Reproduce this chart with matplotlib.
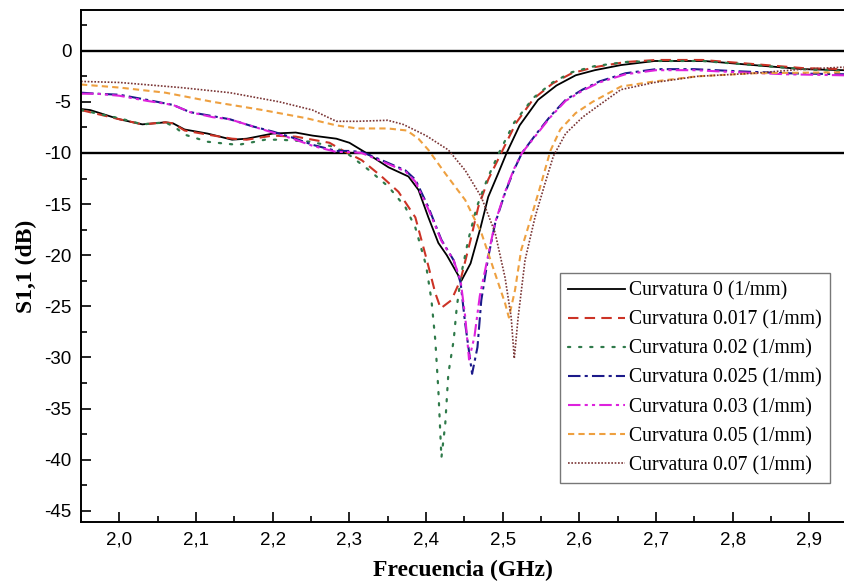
import numpy as np
import matplotlib
matplotlib.use("Agg")
import matplotlib.pyplot as plt
from matplotlib.ticker import MultipleLocator, FuncFormatter

# --- data (GHz, dB) ---
f_c0 = [1.95, 1.962, 2.00, 2.03, 2.06, 2.07, 2.085, 2.115, 2.147, 2.166, 2.20, 2.23, 2.252, 2.283,
        2.30, 2.322, 2.351, 2.377, 2.39, 2.403, 2.416, 2.427, 2.446, 2.458, 2.471, 2.481, 2.494,
        2.505, 2.522, 2.546, 2.57, 2.595, 2.62, 2.654, 2.698, 2.763, 2.827, 2.892, 2.945]
s_c0 = [-5.7, -5.8, -6.7, -7.2, -7.0, -7.1, -7.7, -8.1, -8.7, -8.6, -8.1, -8.0, -8.3, -8.6,
        -9.0, -10.0, -11.4, -12.3, -13.6, -16.3, -18.8, -20.0, -22.5, -20.8, -17.3, -14.3, -12.0,
        -10.0, -7.3, -4.8, -3.4, -2.4, -1.9, -1.4, -1.0, -1.0, -1.4, -1.8, -1.9]

f_c017 = [1.95, 2.00, 2.03, 2.06, 2.07, 2.085, 2.115, 2.147, 2.166, 2.20, 2.23, 2.252, 2.274, 2.29,
          2.316, 2.342, 2.364, 2.386, 2.40, 2.412, 2.419, 2.433, 2.445, 2.458, 2.468, 2.481, 2.498,
          2.517, 2.54, 2.565, 2.59, 2.62, 2.66, 2.70, 2.76, 2.827, 2.892, 2.945]
s_c017 = [-5.8, -6.7, -7.2, -7.0, -7.1, -7.8, -8.2, -8.6, -8.7, -8.3, -8.4, -8.7, -9.0, -9.7,
          -10.7, -12.3, -13.8, -16.3, -20.2, -23.7, -25.2, -24.4, -22.4, -18.5, -15.3, -12.6, -10.0,
          -7.1, -4.7, -3.2, -2.2, -1.6, -1.1, -0.9, -0.9, -1.3, -1.7, -1.8]

f_c02 = [1.95, 2.00, 2.03, 2.06, 2.073, 2.085, 2.115, 2.14, 2.155, 2.17, 2.19, 2.21, 2.25, 2.28,
         2.30, 2.326, 2.351, 2.373, 2.386, 2.40, 2.407, 2.412, 2.416, 2.42, 2.425, 2.429, 2.436,
         2.44, 2.446, 2.455, 2.466, 2.48, 2.495, 2.515, 2.54, 2.565, 2.59, 2.62, 2.66, 2.70, 2.76,
         2.827, 2.892, 2.945]
s_c02 = [-5.8, -6.6, -7.2, -7.0, -7.5, -8.2, -8.9, -9.1, -9.2, -9.0, -8.7, -8.7, -8.9, -9.4,
         -10.2, -11.7, -13.3, -15.3, -17.3, -21.0, -24.4, -28.3, -33.2, -39.8, -36.5, -31.6, -28.3,
         -25.1, -21.8, -18.5, -15.3, -12.5, -10.0, -7.0, -4.6, -3.1, -2.1, -1.5, -1.1, -1.0, -1.0,
         -1.4, -1.8, -2.0]

f_c025 = [1.95, 1.97, 2.00, 2.036, 2.07, 2.092, 2.122, 2.144, 2.174, 2.20, 2.226, 2.252, 2.283,
          2.30, 2.316, 2.342, 2.373, 2.386, 2.403, 2.42, 2.436, 2.445, 2.451, 2.46, 2.467, 2.472,
          2.481, 2.49, 2.503, 2.515, 2.525, 2.543, 2.562, 2.582, 2.604, 2.626, 2.66, 2.70, 2.75,
          2.805, 2.87, 2.945]
s_c025 = [-4.1, -4.2, -4.3, -4.8, -5.3, -6.0, -6.4, -6.7, -7.4, -7.9, -8.5, -9.2, -9.8,
          -9.8, -9.9, -10.7, -11.7, -12.6, -15.3, -18.5, -20.5, -22.7, -26.7, -31.6, -29.0, -24.4,
          -20.2, -16.9, -13.9, -11.6, -10.0, -8.2, -6.4, -4.8, -3.8, -3.0, -2.2, -1.8, -1.8,
          -2.0, -2.2, -2.3]

f_c03 = [1.95, 1.97, 2.00, 2.036, 2.07, 2.092, 2.122, 2.144, 2.174, 2.20, 2.226, 2.252, 2.283,
         2.30, 2.316, 2.342, 2.373, 2.386, 2.403, 2.42, 2.436, 2.445, 2.451, 2.456, 2.463, 2.47,
         2.481, 2.49, 2.503, 2.515, 2.525, 2.543, 2.562, 2.582, 2.604, 2.626, 2.66, 2.70, 2.75,
         2.805, 2.87, 2.945]
s_c03 = [-4.2, -4.2, -4.4, -4.9, -5.3, -6.0, -6.5, -6.7, -7.4, -8.0, -8.6, -9.3, -9.9,
         -9.9, -10.0, -10.8, -11.8, -12.8, -15.5, -18.6, -20.5, -22.5, -26.0, -30.2, -28.0, -24.0,
         -20.0, -16.8, -13.8, -11.5, -10.0, -8.3, -6.5, -4.9, -3.9, -3.1, -2.3, -1.9, -1.9,
         -2.1, -2.3, -2.4]

f_c05 = [1.95, 2.00, 2.06, 2.122, 2.187, 2.244, 2.283, 2.31, 2.35, 2.375, 2.39, 2.403, 2.425,
         2.451, 2.472, 2.49, 2.503, 2.508, 2.516, 2.524, 2.537, 2.55, 2.562, 2.575, 2.595, 2.617,
         2.654, 2.698, 2.754, 2.827, 2.945]
s_c05 = [-3.3, -3.6, -4.1, -5.0, -5.8, -6.6, -7.3, -7.6, -7.6, -7.8, -8.6, -9.7, -12.0,
         -14.6, -17.8, -21.8, -24.7, -26.1, -23.4, -19.5, -16.3, -13.0, -9.8, -7.7, -6.1, -5.0,
         -3.5, -3.0, -2.5, -2.2, -2.1]

f_c07 = [1.95, 2.00, 2.08, 2.144, 2.209, 2.252, 2.283, 2.31, 2.35, 2.37, 2.40, 2.429, 2.451,
         2.472, 2.49, 2.503, 2.511, 2.515, 2.52, 2.529, 2.542, 2.555, 2.566, 2.582, 2.604, 2.626,
         2.654, 2.698, 2.754, 2.827, 2.892, 2.945]
s_c07 = [-3.0, -3.1, -3.6, -4.1, -5.0, -5.8, -6.9, -6.9, -6.8, -7.2, -8.3, -9.7, -11.7,
         -14.3, -17.8, -22.2, -26.1, -30.1, -26.1, -20.5, -16.3, -13.0, -10.3, -8.1, -6.5, -5.3,
         -3.8, -3.1, -2.5, -2.2, -1.8, -1.6]

labels = ["Curvatura 0 (1/mm)", "Curvatura 0.017 (1/mm)", "Curvatura 0.02 (1/mm)",
          "Curvatura 0.025 (1/mm)", "Curvatura 0.03 (1/mm)", "Curvatura 0.05 (1/mm)",
          "Curvatura 0.07 (1/mm)"]

fig = plt.figure(figsize=(8.44, 5.81), dpi=100)
ax = fig.add_axes([0.096, 0.1015, 0.904, 0.8815])

ax.axhline(0, color="black", lw=1.7, zorder=1)
ax.axhline(-10, color="black", lw=1.7, zorder=1)

ax.plot(f_c0, s_c0, color="black", lw=1.3, label=labels[0])
ax.plot(f_c017, s_c017, color="#cc3326", lw=1.5, ls=(0, (5, 3)), label=labels[1])
ax.plot(f_c02, s_c02, color="#2f7a4a", lw=1.6, ls=(0, (1, 4)), dash_capstyle="round", label=labels[2])
ax.plot(f_c025, s_c025, color="#1c1a8a", lw=1.5, ls=(0, (6, 2, 1.5, 2)), label=labels[3])
ax.plot(f_c03, s_c03, color="#dd22dd", lw=1.5, ls=(0, (6, 2, 1.5, 2, 1.5, 2)), label=labels[4])
ax.plot(f_c05, s_c05, color="#eea040", lw=1.5, ls=(0, (3, 2)), label=labels[5])
ax.plot(f_c07, s_c07, color="#7a3535", lw=1.2, ls=(0, (1, 1)), label=labels[6])

ax.set_xlim(1.95, 2.945)
ax.set_ylim(-46.1, 4)

ax.xaxis.set_major_locator(MultipleLocator(0.1))
ax.xaxis.set_minor_locator(MultipleLocator(0.05))
ax.yaxis.set_major_locator(MultipleLocator(5))
ax.yaxis.set_minor_locator(MultipleLocator(2.5))
ax.xaxis.set_major_formatter(FuncFormatter(lambda v, p: ("%.1f" % v).replace(".", ",")))
ax.yaxis.set_major_formatter(FuncFormatter(lambda v, p: "%d" % round(v)))

ax.tick_params(which="major", direction="in", length=7, width=1.2, labelsize=13.5, pad=7)
ax.tick_params(which="minor", direction="in", length=4, width=1.2)
for lab in ax.get_xticklabels() + ax.get_yticklabels():
    lab.set_fontfamily("Liberation Sans")

for s in ["left", "bottom", "top"]:
    ax.spines[s].set_linewidth(1.4)
ax.spines["right"].set_visible(False)

ax.set_xlabel("Frecuencia (GHz)", fontsize=17, fontweight="bold", family="Liberation Serif", labelpad=8)
ax.set_ylabel("S1,1 (dB)", fontsize=17, fontweight="bold", family="Liberation Serif", labelpad=5)

leg = ax.legend(loc="lower left", bbox_to_anchor=(0.628, 0.076), prop={"family": "Liberation Serif", "size": 14.2},
                frameon=True, fancybox=False, edgecolor="#555555", handlelength=2.9, handletextpad=0.2,
                labelspacing=0.5, borderpad=0.4, borderaxespad=0)
leg.get_frame().set_linewidth(1.0)

fig.savefig("out.png", dpi=100)
